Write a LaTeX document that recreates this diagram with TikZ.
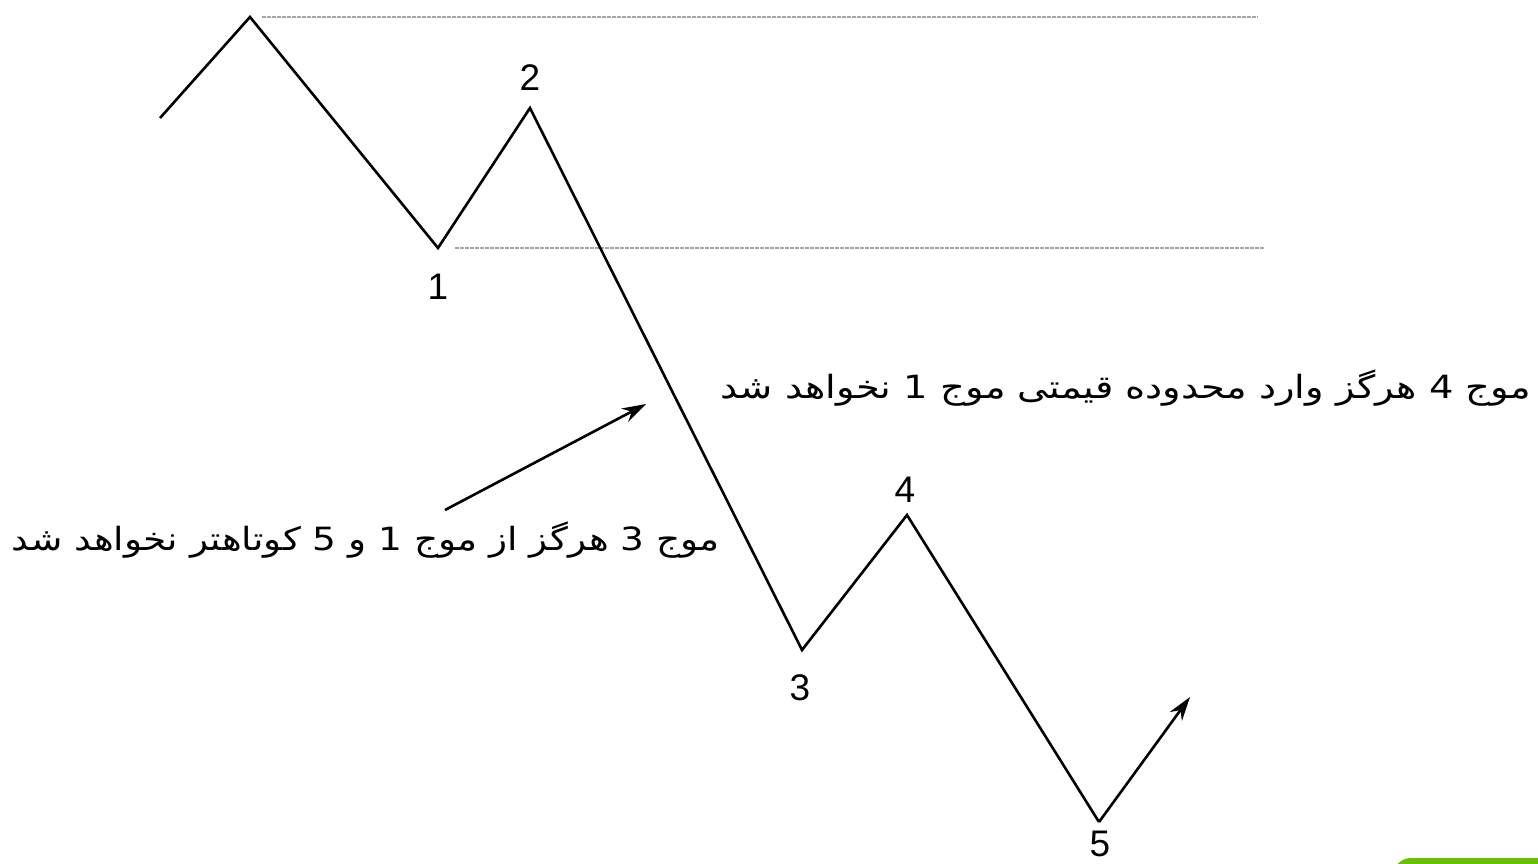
\documentclass[tikz,border=0pt]{standalone}
\usepackage{fontspec}
\usepackage{graphicx}
\setmainfont{Liberation Sans}
\newfontfamily\arabicfont[Script=Arabic]{DejaVu Sans}
\TeXXeTstate=1
\usetikzlibrary{arrows.meta}
\definecolor{btngreen}{HTML}{6CBE00}
\tikzset{
  wave/.style={line width=2.6pt, black, line join=miter},
  guide/.style={line width=1.4pt, gray!70, dash pattern=on 4pt off 1pt},
  num/.style={font=\fontsize{37}{40}\selectfont, inner sep=0pt},
  note/.style={font=\arabicfont\fontsize{32}{36}\selectfont, inner sep=0pt},
  pointer/.style={line width=2.6pt, -{Stealth[length=24pt,width=15pt]}}
}
\begin{document}
\begin{tikzpicture}[x=1pt,y=-1pt]
\useasboundingbox (0,0) rectangle (1538,863);
\fill[white] (0,0) rectangle (1538,863);
% wave points
\coordinate (s) at (160,118);
\coordinate (p0) at (250,17);
\coordinate (w1) at (438,248);
\coordinate (w2) at (530,108);
\coordinate (w3) at (802,650);
\coordinate (w4) at (907,515);
\coordinate (w5) at (1099,822);
\coordinate (e) at (1190,697);
\coordinate (g0a) at (262,17);
\coordinate (g0b) at (1258,17);
\coordinate (g1a) at (455,248);
\coordinate (g1b) at (1265,248);
% guide lines
\draw[guide] (g0a) -- (g0b);
\draw[guide] (g1a) -- (g1b);
% wave
\draw[wave] (s) -- (p0) -- (w1) -- (w2) -- (w3) -- (w4) -- (w5);
\draw[wave, pointer] (w5) -- (e);
% labels
\node[num] (l1) at (438,287) {1};
\node[num] (l2) at (530,78) {2};
\node[num] (l3) at (800,688) {3};
\node[num] (l4) at (905,490) {4};
\node[num] (l5) at (1100,844) {5};
% notes
\node[note, anchor=east] (n4) at (1531,388) {\resizebox{810pt}{\height}{\beginR موج 4 هرگز وارد محدوده قیمتی موج 1 نخواهد شد\endR}};
\node[note, anchor=east] (n3) at (720,540) {\resizebox{708pt}{\height}{\beginR موج 3 هرگز از موج 1 و 5 کوتاهتر نخواهد شد\endR}};
\coordinate (a0) at (445,510);
\coordinate (a1) at (646,404);
\draw[pointer] (a0) -- (a1);
% green corner button
\fill[btngreen, rounded corners=18pt] (1393,858) rectangle (1580,900);
\end{tikzpicture}
\end{document}
